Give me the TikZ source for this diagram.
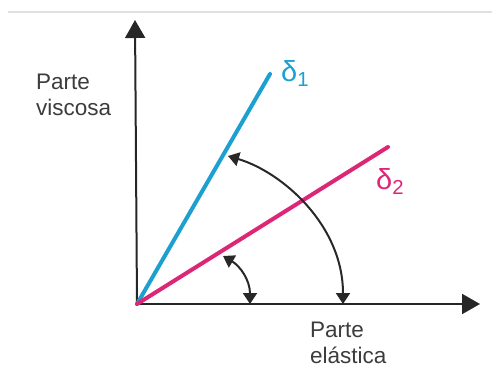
\documentclass[tikz,border=0pt]{standalone}
\usepackage{fontspec}
\setmainfont{Liberation Sans}
\usetikzlibrary{arrows.meta}
\definecolor{dblue}{RGB}{28,160,208}
\definecolor{dpink}{RGB}{222,38,118}
\definecolor{txtgray}{RGB}{60,60,60}
\definecolor{arcgray}{RGB}{40,40,40}
\tikzset{
  axis/.style={line width=2pt,black!85,-{Triangle[width=20pt,length=18pt]}},
  ray/.style={line width=4pt,line cap=round},
  anglearrow/.style={line width=2pt,arcgray,{Triangle[width=14pt,length=11pt]}-{Triangle[width=14pt,length=11pt]}},
  lbl/.style={font=\fontsize{22.5}{26}\selectfont,text=txtgray,align=left,inner sep=0pt,anchor=north west},
  dlbl/.style={font=\fontsize{29}{30}\selectfont,inner sep=0pt,anchor=base west}
}
\begin{document}
\begin{tikzpicture}[x=1pt,y=-1pt]
\useasboundingbox (0,0) rectangle (492,367);
\draw[line width=1.2pt,black!12] (8,12) -- (492,12);
\coordinate (O) at (137,304);
\coordinate (Ytip) at (135,20);
\coordinate (Xtip) at (480,304);
\coordinate (B1) at (270,74);
\coordinate (P2) at (388,147);
\draw[axis] (O) -- (Ytip);
\draw[axis] (O) -- (Xtip);
\draw[ray,dblue] (O) -- (B1);
\draw[ray,dpink] (O) -- (P2);
\coordinate (A1s) at (228,156);
\coordinate (A1e) at (343,304);
\draw[anglearrow] (A1s) .. controls (282,172) and (343,225) .. (A1e);
\coordinate (A2s) at (223,256);
\coordinate (A2e) at (250,304);
\draw[anglearrow] (A2s) .. controls (240,266) and (250,280) .. (A2e);
\node[dlbl,text=dblue] (d1) at (281,81) {δ\textsubscript{1}};
\node[dlbl,text=dpink] (d2) at (376,189) {δ\textsubscript{2}};
\node[lbl] (vis) at (36,74) {Parte\\viscosa};
\node[lbl] (ela) at (310,322) {Parte\\elástica};
\end{tikzpicture}
\end{document}
